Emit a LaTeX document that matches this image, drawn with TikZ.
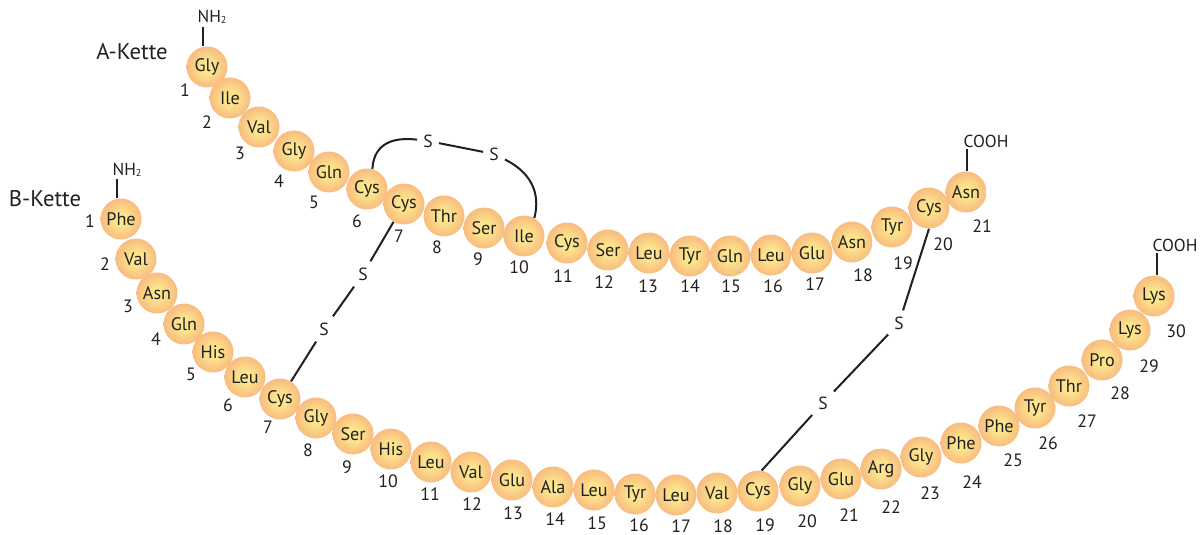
\documentclass[tikz,border=0pt]{standalone}
\usepackage{fontspec}
\setmainfont{PT Sans}
\definecolor{ballin}{HTML}{FCE68C}
\definecolor{ballmid}{HTML}{F9C783}
\definecolor{ballout}{HTML}{F8BC80}
\definecolor{txt}{HTML}{231F20}
\pgfdeclareradialshading{aaball}{\pgfpoint{0bp}{0bp}}{color(0bp)=(ballin); color(7bp)=(ballin); color(20bp)=(ballmid); color(25bp)=(ballout); color(50bp)=(ballout)}
\tikzset{
  aa/.style={circle, minimum size=30.75pt, inner sep=0pt, shading=aaball, text=txt, font=\fontsize{13.6}{15}\selectfont},
  num/.style={text=txt, font=\fontsize{13.4}{15}\selectfont, inner sep=0pt},
  sul/.style={text=txt, font=\fontsize{13.2}{15}\selectfont, inner sep=4.5pt},
  bond/.style={line width=1.5pt, color=txt},
  chem/.style={text=txt, font=\fontsize{13}{15}\selectfont, inner sep=0pt},
  chain/.style={text=txt, font=\fontsize{17}{20}\selectfont, inner sep=0pt}
}
\begin{document}
\begin{tikzpicture}[x=0.75pt,y=-0.75pt]
\useasboundingbox (0,0) rectangle (1204,535);
% A chain
\foreach \n/\nm/\x/\y/\lx/\ly in {
 1/Gly/207/67/185/90, 2/Ile/230/98/207/122, 3/Val/259/127/240/153,
 4/Gly/294/151/279/181, 5/Gln/329/172/314/202, 6/Cys/367/189/357/221,
 7/Cys/404/204/399/236, 8/Thr/444/216/437/247, 9/Ser/484/228/478/259,
 10/Ile/524/236/519/267, 11/Cys/567/243/563/276, 12/Ser/608/250/604/282,
 13/Leu/649/253/648/286, 14/Tyr/690/256/690/286, 15/Gln/730/256/731/286,
 16/Leu/771/255/773/286, 17/Glu/812/253/815/284, 18/Asn/852/242/863/275,
 19/Tyr/892/227/903/263, 20/Cys/929/208/943/244, 21/Asn/966/192/982/226}{
  \node[aa] (a\n) at (\x,\y) {\nm};
  \node[num] (la\n) at (\lx,\ly) {\n};
}
% B chain
\foreach \n/\nm/\x/\y/\lx/\ly in {
 1/Phe/121/219/90/221, 2/Val/136/259/105/264, 3/Asn/157/293/128/306,
 4/Gln/184/324/156/339, 5/His/213/352/191/374, 6/Leu/245/377/228/405,
 7/Cys/280/399/268/427, 8/Gly/316/418/308/450, 9/Ser/353/434/347/467,
 10/His/391/449/388/481, 11/Leu/431/462/430/494, 12/Val/471/472/472/504,
 13/Glu/512/480/513/513, 14/Ala/553/487/555/519, 15/Leu/594/490/597/523,
 16/Tyr/635/494/639/525, 17/Leu/676/495/681/526, 18/Val/717/493/723/526,
 19/Cys/758/491/765/525, 20/Gly/800/486/807/521, 21/Glu/841/479/849/515,
 22/Arg/881/469/891/507, 23/Gly/921/457/930/493, 24/Phe/961/443/972/482,
 25/Phe/999/426/1013/460, 26/Tyr/1035/408/1048/443, 27/Thr/1069/386/1087/421,
 28/Pro/1102/360/1120/393, 29/Lys/1130/330/1149/366, 30/Lys/1154/296/1176/331}{
  \node[aa] (b\n) at (\x,\y) {\nm};
  \node[num] (lb\n) at (\lx,\ly) {\n};
}
% chain labels and termini
\node[chain] (ka) at (132,52) {A-Kette};
\node[chain] (kb) at (45,199) {B-Kette};
\node[chem] (nha) at (212,17) {NH\raisebox{-0.1ex}{\fontsize{7.5}{8}\selectfont 2}};
\node[chem] (nhb) at (127,170) {NH\raisebox{-0.1ex}{\fontsize{7.5}{8}\selectfont 2}};
\node[chem] (cooha) at (986,141) {COOH};
\node[chem] (coohb) at (1175,245) {COOH};
\coordinate (nhaf) at (203,27);
\coordinate (nhbf) at (117,179);
\coordinate (coaf) at (967,149);
\coordinate (cobf) at (1157,253);
\draw[bond] (nhaf) -- (a1.north -| nhaf);
\draw[bond] (nhbf) -- (b1.north -| nhbf);
\draw[bond] (coaf) -- (a21.north -| coaf);
\draw[bond] (cobf) -- (b30.north -| cobf);
% disulfide A6 - A10
\node[sul] (s1) at (428,141) {S};
\node[sul] (s2) at (494,154) {S};
\draw[bond] (a6.75) .. controls (374,142) and (395,137) .. (s1);
\draw[bond] (s1) -- (s2);
\draw[bond] (s2) .. controls (530,172) and (541,192) .. (a10.60);
% disulfide A7 - B7
\node[sul] (s3) at (363,274) {S};
\node[sul] (s4) at (324,329) {S};
\draw[bond] (a7) -- (s3);
\draw[bond] (s3) -- (s4);
\draw[bond] (s4) -- (b7);
% disulfide A20 - B19
\node[sul] (s5) at (899,323) {S};
\node[sul] (s6) at (823,403) {S};
\draw[bond] (a20.south) -- (s5);
\draw[bond] (s5) -- (s6);
\draw[bond] (s6) -- (b19.80);
\end{tikzpicture}
\end{document}
